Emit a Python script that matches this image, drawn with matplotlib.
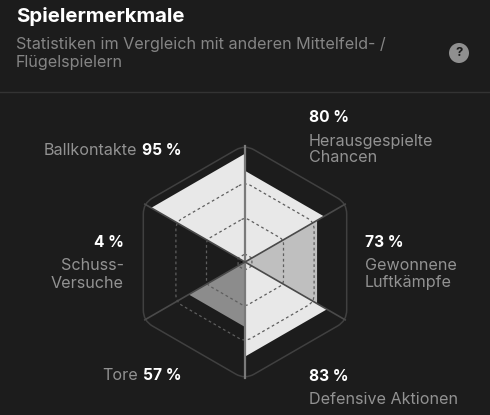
import numpy as np
import matplotlib
matplotlib.use("Agg")
import matplotlib.pyplot as plt
from matplotlib.path import Path
from matplotlib.patches import PathPatch, Circle, Polygon

W, H = 490, 415
BG = "#1c1c1c"
GREY_TEXT = "#929292"

plt.rcParams['font.family'] = ['Inter', 'DejaVu Sans']

# values clockwise starting at the top spoke
labels = ["Herausgespielte\nChancen", "Gewonnene\nLuftkämpfe", "Defensive Aktionen",
          "Tore", "Schuss-\nVersuche", "Ballkontakte"]
values = [80, 73, 83, 57, 4, 95]
colors = ["#e8e8e8", "#bfbfbf", "#e8e8e8", "#8c8c8c", "#101010", "#e8e8e8"]
ring_levels = [7, 39, 70]
outer_level = 103
spokes = [0, 60, 120, 180, 240, 300]


def px(x, y):
    return x / W, 1 - y / H


def pt(r, deg):
    a = np.radians(deg)
    return r * np.sin(a), r * np.cos(a)


def rounded_hex(r, frac=0.09):
    verts = np.array([pt(r, d) for d in spokes])
    out = []
    codes = []
    for i in range(6):
        v = verts[i]
        prev = verts[i - 1]
        nxt = verts[(i + 1) % 6]
        a = v + (prev - v) * frac
        b = v + (nxt - v) * frac
        out += [a, v, b]
        codes += [Path.MOVETO if i == 0 else Path.LINETO, Path.CURVE3, Path.CURVE3]
    out.append(out[0])
    codes.append(Path.CLOSEPOLY)
    return Path(out, codes)


fig = plt.figure(figsize=(W / 100, H / 100), dpi=100, facecolor=BG)

# radar, 100 % = 114 px, centre at 245,262
R_PX = 114
ax = fig.add_axes([(245 - R_PX * 1.1) / W, 1 - (262 + R_PX * 1.1) / H,
                   R_PX * 2.2 / W, R_PX * 2.2 / H])
ax.set_xlim(-110, 110)
ax.set_ylim(-110, 110)
ax.axis("off")

for i, v in enumerate(values):
    ax.add_patch(Polygon([(0, 0), pt(v, spokes[i]), pt(v, spokes[i] + 60)],
                         closed=True, fc=colors[i], ec="none", zorder=2))

for lvl in ring_levels:
    ax.add_patch(PathPatch(rounded_hex(lvl), fc="none", ec="#5e5e5e", lw=0.9,
                           ls=(0, (2.2, 2.2)), zorder=3))
ax.add_patch(PathPatch(rounded_hex(outer_level), fc="none", ec="#404040", lw=1.1, zorder=3))

for d in spokes:
    x, y = pt(outer_level * 0.985, d)
    if d % 180 == 0:
        ax.plot([0, x], [0, y], color="#7a7a7a", lw=1.6, zorder=4)
    else:
        ax.plot([0, x], [0, y], color="#4a4a4a", lw=1.2, zorder=4)

# header
fig.text(*px(16, 16), "Spielermerkmale", color="white", fontsize=14.7, fontweight="bold", va="center")
fig.text(*px(16, 44), "Statistiken im Vergleich mit anderen Mittelfeld- /", color="#858585",
         fontsize=11.65, va="center")
fig.text(*px(16, 62), "Flügelspielern", color="#858585", fontsize=11.65, va="center")
fig.add_artist(plt.Line2D([0, 1], [1 - 92.5 / H] * 2, color="#333333", lw=1))

# help icon
bx = fig.add_axes([0, 0, 1, 1], facecolor="none")
bx.set_xlim(0, W)
bx.set_ylim(H, 0)
bx.axis("off")
bx.add_patch(Circle((459, 53), 10, fc="#8f8f8f", ec="none"))
bx.text(459, 53.5, "?", color=BG, fontsize=9.5, fontweight="bold", ha="center", va="center")

LS = 11.6
LB = 11.2


def pct(v):
    return f"{v} %"


# stacked labels
fig.text(*px(309, 117), pct(values[0]), color="white", fontsize=LB, fontweight="bold", va="center")
fig.text(*px(309, 141), "Herausgespielte", color=GREY_TEXT, fontsize=LS, va="center")
fig.text(*px(309, 158), "Chancen", color=GREY_TEXT, fontsize=LS, va="center")

fig.text(*px(365, 242), pct(values[1]), color="white", fontsize=LB, fontweight="bold", va="center")
fig.text(*px(365, 265), "Gewonnene", color=GREY_TEXT, fontsize=LS, va="center")
fig.text(*px(365, 283), "Luftkämpfe", color=GREY_TEXT, fontsize=LS, va="center")

fig.text(*px(309, 376), pct(values[2]), color="white", fontsize=LB, fontweight="bold", va="center")
fig.text(*px(309, 399), labels[2], color=GREY_TEXT, fontsize=LS, va="center")

fig.text(*px(138, 375), labels[3], color=GREY_TEXT, fontsize=LS, va="center", ha="right")
fig.text(*px(181, 375), pct(values[3]), color="white", fontsize=LB, fontweight="bold", va="center", ha="right")

fig.text(*px(124, 242), pct(values[4]), color="white", fontsize=LB, fontweight="bold", va="center", ha="right")
fig.text(*px(124, 265), "Schuss-", color=GREY_TEXT, fontsize=LS, va="center", ha="right")
fig.text(*px(124, 283), "Versuche", color=GREY_TEXT, fontsize=LS, va="center", ha="right")

fig.text(*px(137, 150), labels[5], color=GREY_TEXT, fontsize=LS, va="center", ha="right")
fig.text(*px(181, 150), pct(values[5]), color="white", fontsize=LB, fontweight="bold", va="center", ha="right")

fig.savefig("out.png", dpi=100, facecolor=BG)
